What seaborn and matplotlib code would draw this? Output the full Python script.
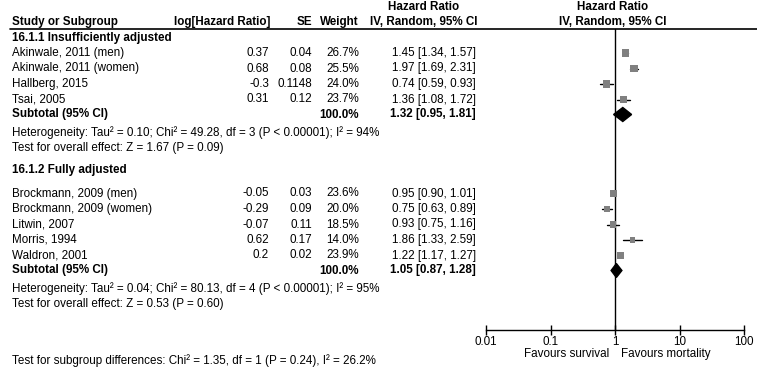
import pandas as pd
import matplotlib.pyplot as plt
import seaborn as sns

sns.set_theme(style="white")
plt.rcParams['font.family'] = ['Liberation Sans', 'DejaVu Sans']

# data
studies = ["Akinwale, 2011 (men)", "Akinwale, 2011 (women)", "Hallberg, 2015", "Tsai, 2005",
           "Brockmann, 2009 (men)", "Brockmann, 2009 (women)", "Litwin, 2007", "Morris, 1994", "Waldron, 2001"]
log_hr = ["0.37", "0.68", "-0.3", "0.31", "-0.05", "-0.29", "-0.07", "0.62", "0.2"]
se = ["0.04", "0.08", "0.1148", "0.12", "0.03", "0.09", "0.11", "0.17", "0.02"]
weight = [26.7, 25.5, 24.0, 23.7, 23.6, 20.0, 18.5, 14.0, 23.9]
hr = [1.45, 1.97, 0.74, 1.36, 0.95, 0.75, 0.93, 1.86, 1.22]
ci_lo = [1.34, 1.69, 0.59, 1.08, 0.90, 0.63, 0.75, 1.33, 1.17]
ci_hi = [1.57, 2.31, 0.93, 1.72, 1.01, 0.89, 1.16, 2.59, 1.27]

sub_hr = [1.32, 1.05]
sub_lo = [0.95, 0.87]
sub_hi = [1.81, 1.28]
groups = ["16.1.1 Insufficiently adjusted", "16.1.2 Fully adjusted"]
heterogeneity = ["Heterogeneity: Tau² = 0.10; Chi² = 49.28, df = 3 (P < 0.00001); I² = 94%",
                 "Heterogeneity: Tau² = 0.04; Chi² = 80.13, df = 4 (P < 0.00001); I² = 95%"]
overall = ["Test for overall effect: Z = 1.67 (P = 0.09)",
           "Test for overall effect: Z = 0.53 (P = 0.60)"]
subgroup_diff = "Test for subgroup differences: Chi² = 1.35, df = 1 (P = 0.24), I² = 26.2%"
ticks = [0.01, 0.1, 1, 10, 100]
tick_labels = ["0.01", "0.1", "1", "10", "100"]

# row layout (pixel rows, top = 0)
study_rows = [53, 68.5, 84, 99.5, 193.5, 209, 224.5, 240, 255.5]
group_rows = [37.5, 170.5]
sub_rows = [114.5, 270.5]
het_rows = [133, 288.5]
over_rows = [148.5, 304]

df = pd.DataFrame({"study": studies, "hr": hr, "lo": ci_lo, "hi": ci_hi,
                   "weight": weight, "row": study_rows})

W, H = 757, 371
fig = plt.figure(figsize=(W / 100, H / 100), dpi=100)

# text layer in pixel coordinates
ax_t = fig.add_axes([0, 0, 1, 1])
ax_t.set_xlim(0, W)
ax_t.set_ylim(H, 0)
ax_t.axis("off")

fs = 8.4
txt = dict(fontsize=fs, va="center", color="black")
bold = dict(txt, fontweight="bold")

ax_t.text(12, 22, "Study or Subgroup", ha="left", **bold)
ax_t.text(270, 22, "log[Hazard Ratio]", ha="right", **bold)
ax_t.text(312, 22, "SE", ha="right", **bold)
ax_t.text(359, 22, "Weight", ha="right", **bold)
ax_t.text(424, 6.5, "Hazard Ratio", ha="center", **bold)
ax_t.text(424, 22, "IV, Random, 95% CI", ha="center", **bold)
ax_t.text(613, 6.5, "Hazard Ratio", ha="center", **bold)
ax_t.text(613, 22, "IV, Random, 95% CI", ha="center", **bold)
ax_t.plot([10, W], [28.5, 28.5], color="black", lw=1.2)

for i, r in enumerate(study_rows):
    ax_t.text(12, r, studies[i], ha="left", **txt)
    ax_t.text(269, r, log_hr[i], ha="right", **txt)
    ax_t.text(312, r, se[i], ha="right", **txt)
    ax_t.text(359, r, f"{weight[i]:.1f}%", ha="right", **txt)
    ax_t.text(476, r, f"{hr[i]:.2f} [{ci_lo[i]:.2f}, {ci_hi[i]:.2f}]", ha="right", **txt)

for g in range(2):
    ax_t.text(12, group_rows[g], groups[g], ha="left", **bold)
    ax_t.text(12, sub_rows[g], "Subtotal (95% CI)", ha="left", **bold)
    ax_t.text(359, sub_rows[g], "100.0%", ha="right", **bold)
    ax_t.text(476, sub_rows[g], f"{sub_hr[g]:.2f} [{sub_lo[g]:.2f}, {sub_hi[g]:.2f}]", ha="right", **bold)
    ax_t.text(12, het_rows[g], heterogeneity[g], ha="left", **txt)
    ax_t.text(12, over_rows[g], overall[g], ha="left", **txt)

ax_t.text(12, 361, subgroup_diff, ha="left", **txt)

# forest panel: log x-axis from 0.01 to 100, rows share the pixel y scale
x0, x1 = 486, 744
ax = fig.add_axes([x0 / W, 0, (x1 - x0) / W, 1])
ax.set_xscale("log")
ax.set_xlim(0.01, 100)
ax.set_ylim(H, 0)
ax.patch.set_alpha(0)

for _, row in df.iterrows():
    ax.plot([row.lo, row.hi], [row.row, row.row], color="black", lw=1, zorder=2)
sns.scatterplot(data=df, x="hr", y="row", size="weight", sizes=(0, 30), size_norm=(0, 28),
                marker="s", color="#808080", edgecolor="none", legend=False, ax=ax, zorder=3)

for g in range(2):
    y = sub_rows[g]
    ax.fill([sub_lo[g], sub_hr[g], sub_hi[g], sub_hr[g]], [y, y - 7, y, y + 7],
            color="black", zorder=4)

ax.plot([1, 1], [28.5, 330], color="black", lw=1, zorder=1)

for s in ["left", "right", "top"]:
    ax.spines[s].set_visible(False)
ax.spines["bottom"].set_position(("data", 330))
ax.spines["bottom"].set_color("black")
ax.spines["bottom"].set_linewidth(1)
ax.set_xticks(ticks)
ax.set_xticklabels(tick_labels)
ax.xaxis.set_minor_locator(plt.NullLocator())
ax.tick_params(axis="x", direction="inout", length=7, width=1, labelsize=fs, pad=1,
               bottom=True, colors="black")
ax.set_yticks([])
ax.set_xlabel("")
ax.set_ylabel("")

ax_t.text(609, 354, "Favours survival", ha="right", **txt)
ax_t.text(621, 354, "Favours mortality", ha="left", **txt)

fig.savefig("out.png", dpi=100)
